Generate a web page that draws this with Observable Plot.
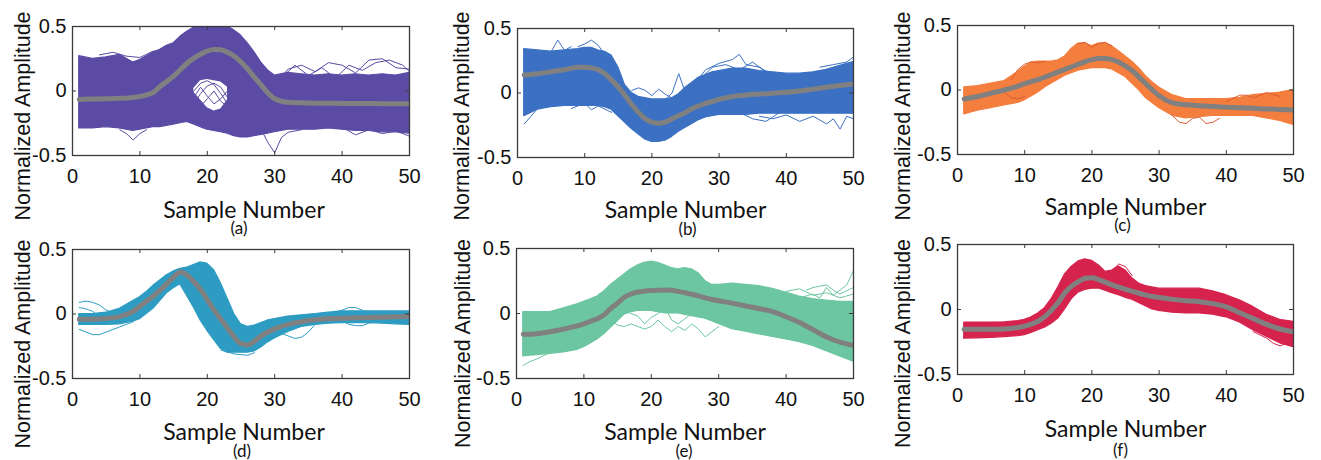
<!DOCTYPE html>
<html><head><meta charset="utf-8">
<script src="https://cdn.jsdelivr.net/npm/d3@7"></script>
<script src="https://cdn.jsdelivr.net/npm/@observablehq/plot@0.6"></script>
<style>
body{margin:0;background:#fff;}
#chart{position:relative;width:1321px;height:460px;overflow:hidden;background:#fff;}
.panel{position:absolute;}
.panel svg{overflow:visible;}
</style></head><body><div id="chart"></div>
<script>
// ---------- labels & ticks ----------
const yLabel = "Normalized Amplitude";
const xLabel = "Sample Number";
const panelTags = ["(a)", "(b)", "(c)", "(d)", "(e)", "(f)"];
const xTicks = [0, 10, 20, 30, 40, 50];
const xTickLabels = ["0", "10", "20", "30", "40", "50"];
const yTicks = [-0.5, 0, 0.5];
const yTickLabels = ["-0.5", "0", "0.5"];

// ---------- sample numbers at which envelopes / means were read ----------
const samples = [1,3,5,7,9,10,11,12,13,14,15,16,17,18,19,20,21,22,23,24,25,26,27,28,29,30,32,34,36,38,40,42,44,46,48,50];

// ---------- (a) ----------
const aMean = [-0.065,-0.062,-0.06,-0.057,-0.05, -0.043,-0.03,-0.01,0.035,0.075,0.115,0.165,0.215,0.255,0.285,0.31,0.322,0.32,0.3,0.27,0.225,0.17,0.105,0.045,-0.015,-0.06, -0.088,-0.092,-0.094,-0.095,-0.096,-0.097,-0.097,-0.098,-0.098,-0.098];
const aHi = [0.27,0.25,0.26,0.28,0.22, 0.24,0.27,0.3,0.32,0.35,0.37,0.42,0.46,0.49,0.5,0.5,0.5,0.5,0.5,0.47,0.43,0.37,0.3,0.22,0.16,0.12, 0.14,0.13,0.12,0.13,0.12,0.13,0.12,0.13,0.12,0.14];
const aLo = [-0.29,-0.29,-0.28,-0.29,-0.31, -0.3,-0.29,-0.28,-0.28,-0.27,-0.26,-0.25,-0.24,-0.26,-0.28,-0.3,-0.31,-0.32,-0.33,-0.35,-0.36,-0.36,-0.35,-0.34,-0.33,-0.32, -0.3,-0.3,-0.3,-0.29,-0.3,-0.31,-0.31,-0.32,-0.32,-0.33];
const aGapSamples = [18,19,20,21,22,23];
const aGapHi = [0.02,0.08,0.09,0.08,0.07,0.03];
const aGapLo = [-0.01,-0.07,-0.13,-0.155,-0.14,-0.07];
const aTraces = [
  [[29,0.12],[30,0.05],[32,0.17],[34,0.2],[36,0.15],[38,0.22],[40,0.2],[42,0.14],[44,0.24],[46,0.25],[48,0.18],[50,0.17]],
  [[31,0.1],[33,0.2],[35,0.12],[37,0.18],[39,0.1],[41,0.2],[43,0.16],[45,0.22],[47,0.24],[49,0.2],[50,0.15]],
  [[27,-0.22],[28,-0.3],[29,-0.4],[30,-0.48],[31,-0.36],[32,-0.32],[34,-0.3]],
  [[7,-0.3],[8,-0.33],[9,-0.38],[10,-0.33],[11,-0.3]],
  [[17,-0.05],[18,0.0],[19,0.06],[20,0.08],[21,0.05],[22,-0.02],[23,-0.1],[24,-0.2]],
  [[18,-0.1],[19,-0.02],[20,0.04],[21,0.06],[22,0.03],[23,-0.05]],
  [[18,-0.05],[19,0.03],[20,-0.04],[21,-0.1],[22,-0.06],[23,0.0]],
  [[19,-0.12],[20,-0.06],[21,0.0],[22,-0.08],[23,-0.12]],
  [[40,-0.28],[42,-0.34],[44,-0.3],[46,-0.33],[48,-0.31],[50,-0.35]],
  [[4,0.28],[6,0.3],[8,0.27],[10,0.26],[12,0.31]]
];

// ---------- (b) ----------
const bMean = [0.14,0.15,0.165,0.18,0.2, 0.2,0.195,0.18,0.15,0.1,0.045,-0.02,-0.09,-0.15,-0.2,-0.225,-0.235,-0.225,-0.2,-0.175,-0.15,-0.12,-0.1,-0.08,-0.065,-0.05, -0.027,-0.015,-0.008,-0.002,0.005,0.015,0.03,0.045,0.058,0.07];
const bHi = [0.34,0.33,0.32,0.33,0.34, 0.35,0.35,0.33,0.32,0.29,0.2,0.06,0.0,-0.03,-0.04,-0.05,-0.05,-0.05,-0.04,-0.01,0.04,0.08,0.12,0.14,0.16,0.17, 0.19,0.19,0.17,0.16,0.15,0.15,0.16,0.18,0.21,0.24];
const bLo = [-0.18,-0.13,-0.11,-0.1,-0.1, -0.1,-0.1,-0.1,-0.11,-0.13,-0.18,-0.23,-0.28,-0.32,-0.36,-0.38,-0.38,-0.37,-0.34,-0.3,-0.27,-0.24,-0.21,-0.19,-0.18,-0.17, -0.17,-0.17,-0.16,-0.16,-0.16,-0.16,-0.16,-0.16,-0.16,-0.16];
const bTraces = [
  [[1,-0.24],[2,-0.18],[3,-0.12],[4,-0.1],[5,-0.04]],
  [[4,0.3],[5,0.32],[6,0.41],[7,0.33],[8,0.36]],
  [[9,0.36],[10,0.38],[11,0.41],[12,0.37],[13,0.3]],
  [[21,-0.08],[22,-0.05],[23,0.0],[24,0.15],[25,0.0],[26,0.02]],
  [[17,0.02],[18,0.04],[19,0.02],[20,-0.02],[21,0.03],[22,-0.01],[23,-0.04]],
  [[26,0.05],[28,0.18],[30,0.23],[32,0.26],[33,0.3],[34,0.22],[36,0.2],[38,0.14],[40,0.12]],
  [[27,0.1],[29,0.2],[31,0.22],[33,0.18],[35,0.24],[37,0.16],[39,0.14]],
  [[36,-0.18],[38,-0.2],[40,-0.17],[42,-0.22],[44,-0.18],[46,-0.24],[47,-0.2],[48,-0.28],[49,-0.18],[50,-0.2]],
  [[33,-0.15],[35,-0.2],[37,-0.22],[39,-0.15]],
  [[45,0.2],[47,0.22],[49,0.24],[50,0.28]],
  [[8,-0.12],[10,-0.08],[11,-0.13],[12,-0.1],[14,-0.15]]
];

// ---------- (c) ----------
const cMean = [-0.07,-0.05,-0.025,0.0,0.03, 0.05,0.065,0.08,0.1,0.12,0.14,0.16,0.18,0.2,0.22,0.235,0.245,0.245,0.235,0.215,0.185,0.15,0.1,0.05,0.0,-0.045, -0.1,-0.115,-0.122,-0.128,-0.133,-0.138,-0.142,-0.147,-0.151,-0.155];
const cHi = [0.02,0.03,0.05,0.07,0.14, 0.18,0.21,0.22,0.22,0.22,0.23,0.26,0.32,0.36,0.36,0.34,0.36,0.36,0.34,0.3,0.26,0.22,0.17,0.11,0.06,0.02, -0.04,-0.07,-0.07,-0.07,-0.07,-0.06,-0.04,-0.03,-0.02,0.0];
const cLo = [-0.19,-0.16,-0.14,-0.12,-0.1, -0.08,-0.05,-0.02,0.02,0.05,0.08,0.11,0.13,0.15,0.16,0.17,0.17,0.17,0.16,0.13,0.1,0.05,0.0,-0.06,-0.1,-0.14, -0.2,-0.22,-0.21,-0.2,-0.2,-0.2,-0.2,-0.22,-0.24,-0.27];
const cTraces = [
  [[8,0.08],[9,0.16],[10,0.2],[11,0.22],[12,0.21],[13,0.22]],
  [[32,-0.2],[33,-0.25],[34,-0.26],[35,-0.22],[36,-0.21],[37,-0.26],[38,-0.25],[39,-0.22]],
  [[40,-0.09],[42,-0.04],[43,-0.04],[44,-0.06],[46,-0.02],[48,-0.05]],
  [[7,-0.02],[8,-0.06],[9,-0.07],[10,-0.05]],
  [[18,0.36],[19,0.37],[20,0.33],[21,0.36],[22,0.37],[23,0.34]]
];

// ---------- (d) ----------
const dMean = [-0.04,-0.04,-0.035,-0.02,0.02, 0.06,0.1,0.14,0.185,0.235,0.285,0.325,0.3,0.25,0.19,0.11,0.03,-0.04,-0.11,-0.18,-0.23,-0.24,-0.21,-0.17,-0.14,-0.115, -0.08,-0.06,-0.045,-0.037,-0.032,-0.03,-0.027,-0.025,-0.022,-0.02];
const dHi = [0.0,0.0,0.01,0.04,0.1, 0.13,0.17,0.22,0.26,0.3,0.33,0.35,0.36,0.38,0.4,0.39,0.34,0.24,0.12,0.0,-0.08,-0.1,-0.09,-0.07,-0.05,-0.04, -0.02,-0.01,0.0,0.01,0.02,0.02,0.02,0.02,0.02,0.02];
const dLo = [-0.085,-0.085,-0.085,-0.08,-0.06, -0.04,0.0,0.04,0.1,0.16,0.2,0.23,0.14,0.05,-0.05,-0.13,-0.2,-0.27,-0.3,-0.3,-0.3,-0.3,-0.29,-0.26,-0.22,-0.19, -0.14,-0.1,-0.085,-0.075,-0.07,-0.07,-0.07,-0.075,-0.08,-0.085];
const dTraces = [
  [[1,0.09],[2,0.1],[3,0.09],[4,0.07],[5,0.03],[7,-0.01]],
  [[1,0.05],[2,0.04],[3,0.02],[4,-0.02],[5,-0.05],[6,-0.06]],
  [[1,-0.12],[2,-0.14],[3,-0.16],[4,-0.16],[5,-0.14],[7,-0.1],[9,-0.06]],
  [[29,-0.1],[30,-0.12],[31,-0.15],[32,-0.17],[33,-0.19],[34,-0.18],[35,-0.14],[36,-0.08],[37,-0.04]],
  [[38,0.0],[40,0.03],[41,0.05],[42,0.05],[43,0.03],[44,0.0],[46,-0.02]],
  [[40,-0.05],[41,-0.08],[42,-0.09],[43,-0.09],[44,-0.07],[46,-0.05]],
  [[22,-0.28],[24,-0.31],[26,-0.32],[27,-0.3]]
];

// ---------- (e) ----------
const eMean = [-0.16,-0.155,-0.14,-0.12,-0.095, -0.08,-0.06,-0.04,-0.01,0.04,0.08,0.125,0.15,0.165,0.172,0.176,0.178,0.18,0.178,0.17,0.16,0.148,0.135,0.12,0.108,0.098, 0.08,0.058,0.037,0.015,-0.025,-0.07,-0.125,-0.18,-0.22,-0.245];
const eHi = [0.01,0.01,0.01,0.04,0.07, 0.09,0.11,0.13,0.17,0.22,0.26,0.3,0.34,0.37,0.39,0.4,0.39,0.37,0.35,0.34,0.35,0.34,0.31,0.25,0.22,0.22, 0.23,0.22,0.21,0.19,0.16,0.13,0.11,0.1,0.09,0.09];
const eLo = [-0.33,-0.32,-0.31,-0.3,-0.28, -0.26,-0.23,-0.2,-0.16,-0.11,-0.06,-0.01,0.01,0.02,0.02,0.02,0.01,0.0,0.0,0.0,-0.01,-0.02,-0.03,-0.04,-0.06,-0.08, -0.12,-0.14,-0.16,-0.18,-0.2,-0.22,-0.25,-0.29,-0.33,-0.37];
const eTraces = [
  [[14,-0.05],[15,-0.09],[16,-0.1],[17,-0.08],[18,-0.1],[19,-0.12],[20,-0.1],[21,-0.05],[22,-0.1],[23,-0.14],[24,-0.1],[25,-0.13],[26,-0.08],[27,-0.12],[28,-0.18],[29,-0.14],[30,-0.1]],
  [[16,0.02],[18,-0.02],[19,-0.08],[20,-0.03],[21,0.0],[22,0.05],[23,-0.05],[24,-0.08],[25,-0.04],[26,0.0]],
  [[1,-0.4],[2,-0.37],[3,-0.35],[5,-0.3],[7,-0.27]],
  [[42,0.12],[44,0.15],[45,0.12],[46,0.2],[47,0.14],[48,0.18],[49,0.22],[50,0.33]],
  [[43,0.18],[44,0.2],[46,0.22],[47,0.18],[48,0.15],[50,0.2]],
  [[40,0.17],[42,0.19],[44,0.14],[46,0.16],[48,0.12],[50,0.15]]
];

// ---------- (f) ----------
const fMean = [-0.152,-0.152,-0.152,-0.15,-0.138, -0.128,-0.113,-0.09,-0.055,-0.005,0.055,0.13,0.18,0.215,0.24,0.245,0.23,0.21,0.19,0.172,0.155,0.14,0.125,0.112,0.1,0.092, 0.078,0.068,0.06,0.045,0.02,-0.025,-0.07,-0.115,-0.15,-0.172];
const fHi = [-0.1,-0.1,-0.1,-0.098,-0.09, -0.08,-0.06,-0.03,0.01,0.08,0.17,0.27,0.33,0.37,0.385,0.375,0.34,0.29,0.3,0.33,0.3,0.24,0.2,0.18,0.17,0.16, 0.16,0.16,0.16,0.14,0.11,0.07,0.02,-0.04,-0.08,-0.095];
const fLo = [-0.224,-0.222,-0.218,-0.212,-0.205, -0.198,-0.18,-0.16,-0.14,-0.11,-0.07,0.0,0.08,0.13,0.15,0.16,0.162,0.145,0.125,0.11,0.09,0.075,0.05,0.025,0.0,-0.01, -0.025,-0.03,-0.03,-0.04,-0.06,-0.1,-0.16,-0.21,-0.26,-0.29];
const fTraces = [
  [[22,0.25],[23,0.3],[24,0.35],[25,0.33],[26,0.26]],
  [[23,0.28],[24,0.31],[25,0.29],[26,0.22],[27,0.2]],
  [[44,-0.17],[46,-0.22],[47,-0.26],[48,-0.28],[49,-0.26],[50,-0.25]],
  [[29,0.02],[30,-0.01],[31,0.01],[33,-0.02],[35,0.0]]
];

// ---------- layout / style ----------
const panels = [
  {tag:0, hi:aHi, lo:aLo, mean:aMean, traces:aTraces, gap:{s:aGapSamples, hi:aGapHi, lo:aGapLo},
   color:"#5b4ba5", trace:"#5b4ba5", left:0, top:0, width:440, m:[26,31,75,72], ylab:[-49,25], xlab:[3,62], sub:[-2,78]},
  {tag:1, hi:bHi, lo:bLo, mean:bMean, traces:bTraces,
   color:"#3b70c3", trace:"#3b70c3", left:440, top:0, width:440, m:[28,27,73,77], ylab:[-55,23], xlab:[0,60], sub:[2,77]},
  {tag:2, hi:cHi, lo:cLo, mean:cMean, traces:cTraces,
   color:"#f47e3e", trace:"#dd5a30", left:880, top:0, width:441, m:[25,28,76,77], ylab:[-54,26], xlab:[0,60], sub:[-3,76]},
  {tag:3, hi:dHi, lo:dLo, mean:dMean, traces:dTraces,
   color:"#2e9cc2", trace:"#2e9cc2", left:0, top:230, width:440, m:[19,31,82,72], ylab:[-49,30], xlab:[3,61], sub:[1,78]},
  {tag:4, hi:eHi, lo:eLo, mean:eMean, traces:eTraces,
   color:"#6cc6a1", trace:"#6cc6a1", left:440, top:230, width:440, m:[18,27,82,76], ylab:[-53,30], xlab:[0,61], sub:[-1,78]},
  {tag:5, hi:fHi, lo:fLo, mean:fMean, traces:fTraces,
   color:"#d5234e", trace:"#d5234e", left:880, top:230, width:441, m:[14,28,86,77], ylab:[-54,34], xlab:[0,62], sub:[-5,81]}
];

const H = 230;
const numFont = "'Liberation Sans', Arial, sans-serif";
const txtFont = "Lato, 'Open Sans', sans-serif";

function draw(p) {
  const [mt, mr, mb, ml] = p.m;
  const fw = p.width - ml - mr, fh = H - mt - mb;
  const rows = samples.map((s, i) => ({s, hi: p.hi[i], lo: p.lo[i], mean: p.mean[i]}));
  const marks = [
    Plot.areaY(rows, {x: "s", y1: "lo", y2: "hi", fill: p.color, stroke: p.color, strokeWidth: 1.2, clip: true})
  ];
  if (p.gap) {
    const gapRows = p.gap.s.map((s, i) => ({s, hi: p.gap.hi[i], lo: p.gap.lo[i]}));
    marks.push(Plot.areaY(gapRows, {x: "s", y1: "lo", y2: "hi", fill: "white", clip: true}));
  }
  for (const t of p.traces) {
    marks.push(Plot.line(t, {x: d => d[0], y: d => d[1], stroke: p.trace, strokeWidth: 1, clip: true}));
  }
  marks.push(
    Plot.line(rows, {x: "s", y: "mean", stroke: "#808080", strokeWidth: 5, curve: "monotone-x", clip: true}),
    Plot.frame({stroke: "#3a3a3a", strokeWidth: 1.3}),
    Plot.tickX(xTicks.slice(1, -1), {x: d => d, insetTop: fh - 4, stroke: "#3a3a3a"}),
    Plot.tickX(xTicks.slice(1, -1), {x: d => d, insetBottom: fh - 4, stroke: "#3a3a3a"}),
    Plot.tickY([0], {y: d => d, insetRight: fw - 4, stroke: "#3a3a3a"}),
    Plot.tickY([0], {y: d => d, insetLeft: fw - 4, stroke: "#3a3a3a"}),
    Plot.axisX({ticks: xTicks, tickSize: 0, tickPadding: 13, fontSize: 20, label: null,
      tickFormat: d => xTickLabels[xTicks.indexOf(d)]}),
    Plot.axisY({ticks: yTicks, tickSize: 0, tickPadding: 6, fontSize: 20, label: null,
      tickFormat: d => yTickLabels[yTicks.indexOf(d)]}),
    Plot.text([yLabel], {text: d => d, frameAnchor: "left", textAnchor: "middle", lineAnchor: "middle",
      rotate: -90, dx: p.ylab[0], dy: p.ylab[1], fontSize: 21.5, fontFamily: numFont, fill: "#111"}),
    Plot.text([xLabel], {text: d => d, frameAnchor: "bottom", textAnchor: "middle", lineAnchor: "bottom",
      dx: p.xlab[0], dy: p.xlab[1], fontSize: 23, fontFamily: txtFont, fill: "#111"}),
    Plot.text([panelTags[p.tag]], {text: d => d, frameAnchor: "bottom", textAnchor: "middle", lineAnchor: "bottom",
      dx: p.sub[0], dy: p.sub[1], fontSize: 17, fontFamily: txtFont, fill: "#111"})
  );
  const svg = Plot.plot({
    width: p.width, height: H,
    marginTop: mt, marginRight: mr, marginBottom: mb, marginLeft: ml,
    x: {domain: [0, 50], label: null},
    y: {domain: [-0.5, 0.5], label: null},
    style: {fontFamily: numFont, fontSize: "20px", color: "#111", background: "transparent"},
    marks
  });
  const div = document.createElement("div");
  div.className = "panel";
  div.style.left = p.left + "px";
  div.style.top = p.top + "px";
  div.appendChild(svg);
  document.getElementById("chart").appendChild(div);
}
panels.forEach(draw);
</script>
</body></html>
